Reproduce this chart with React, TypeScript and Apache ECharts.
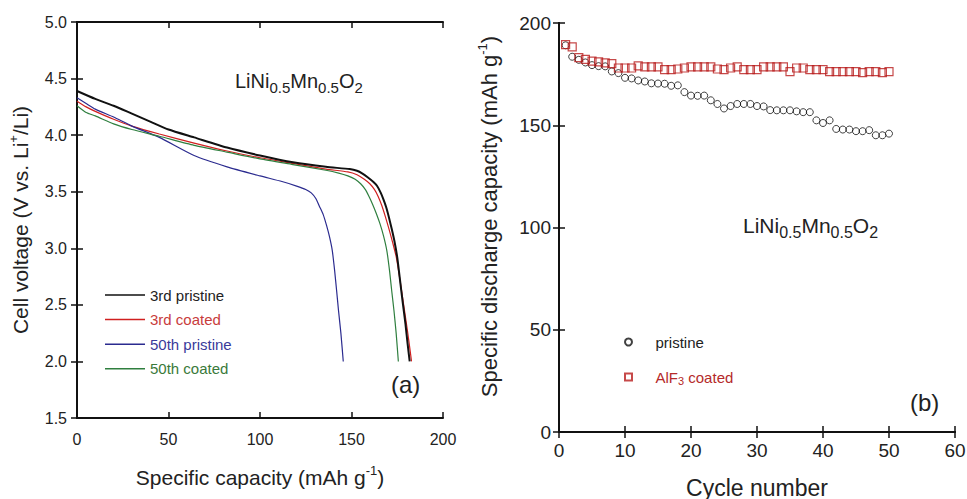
import React, { useEffect, useRef } from "react";
import * as echarts from "echarts";

const FONT = "'Liberation Sans', Arial, sans-serif";

// Panel (a): discharge curves (specific capacity, voltage)
const cap3rdPristine = [0, 10, 20, 30, 40, 50, 64, 82, 100, 118, 136, 149, 153, 156, 159, 162, 164, 166, 167.5, 169, 170.5, 172, 173.5, 175, 176.5, 178, 179.5, 180.7, 181.8];
const volt3rdPristine = [4.39, 4.32, 4.26, 4.19, 4.12, 4.05, 3.98, 3.89, 3.82, 3.76, 3.72, 3.7, 3.685, 3.66, 3.625, 3.585, 3.55, 3.49, 3.43, 3.36, 3.27, 3.17, 3.06, 2.92, 2.72, 2.52, 2.33, 2.15, 2.0];

const cap3rdCoated = [0, 5, 10, 20, 30, 45, 64, 82, 100, 118, 136, 148, 153, 157, 160, 162.5, 164.5, 166.5, 168.5, 170.5, 172.5, 174.5, 176.5, 178.5, 180.5, 182, 182.8];
const volt3rdCoated = [4.3, 4.25, 4.21, 4.14, 4.08, 4.01, 3.93, 3.86, 3.8, 3.75, 3.7, 3.675, 3.65, 3.61, 3.57, 3.52, 3.46, 3.38, 3.28, 3.17, 3.05, 2.92, 2.72, 2.5, 2.28, 2.1, 2.0];

const cap50thPristine = [0, 5, 10, 20, 30, 45, 64, 82, 100, 112, 120, 125, 128, 130.5, 132.5, 134.5, 136.4, 138, 139.5, 140.8, 141.9, 142.9, 144.2, 145.5];
const volt50thPristine = [4.33, 4.28, 4.23, 4.16, 4.08, 3.98, 3.82, 3.72, 3.64, 3.59, 3.55, 3.52, 3.49, 3.44, 3.37, 3.3, 3.2, 3.1, 2.98, 2.8, 2.62, 2.45, 2.25, 2.0];

const cap50thCoated = [0, 5, 10, 20, 30, 45, 64, 82, 100, 118, 136, 143, 148, 152, 155, 157.5, 159.5, 161.5, 163.5, 165.5, 167.5, 169.3, 170.8, 172, 173.2, 174.4, 175.6];
const volt50thCoated = [4.26, 4.2, 4.17, 4.1, 4.05, 3.99, 3.91, 3.85, 3.79, 3.74, 3.69, 3.665, 3.64, 3.61, 3.57, 3.52, 3.46, 3.39, 3.31, 3.22, 3.11, 2.98, 2.8, 2.62, 2.45, 2.25, 2.0];

// Panel (b): cycling
const cycles = [1, 2, 3, 4, 5, 6, 7, 8, 9, 10, 11, 12, 13, 14, 15, 16, 17, 18, 19, 20, 21, 22, 23, 24, 25, 26, 27, 28, 29, 30, 31, 32, 33, 34, 35, 36, 37, 38, 39, 40, 41, 42, 43, 44, 45, 46, 47, 48, 49, 50];
const pristineCap = [189.1, 183.5, 182.0, 180.7, 179.4, 178.9, 178.8, 176.3, 175.5, 173.2, 172.9, 171.9, 171.4, 170.5, 170.4, 170.3, 169.3, 169.5, 166.2, 164.5, 164.4, 164.5, 162.2, 160.4, 158.2, 159.4, 160.4, 160.4, 160.4, 159.4, 159.2, 157.4, 157.3, 157.3, 157.3, 156.8, 156.4, 156.4, 152.4, 151.1, 152.4, 148.2, 147.9, 147.9, 147.1, 147.1, 147.6, 145.1, 145.1, 145.9];
const coatedCap = [189.4, 188.3, 183.1, 182.2, 181.4, 181.0, 180.5, 180.1, 178.0, 178.0, 178.0, 179.0, 178.5, 178.5, 178.5, 177.2, 177.2, 177.5, 178.0, 178.5, 178.5, 178.5, 178.5, 177.5, 177.2, 178.0, 178.5, 177.2, 177.2, 177.2, 178.5, 178.5, 178.5, 178.5, 176.2, 178.0, 178.0, 177.2, 177.2, 177.2, 176.2, 176.2, 176.2, 176.2, 176.2, 175.7, 176.2, 176.2, 175.7, 176.2];

const zip = (a: number[], b: number[]) => a.map((v, i) => [v, b[i]]);

const axisLine = { show: true, lineStyle: { color: "#111", width: 2 } };
const axisTick = { show: true, inside: true, length: 6, lineStyle: { color: "#111", width: 1.5 } };

function buildOption() {
  const lineSeries = (name: string, xs: number[], ys: number[], color: string, width: number) => ({
    type: "line",
    name,
    xAxisIndex: 0,
    yAxisIndex: 0,
    data: zip(xs, ys),
    symbol: "none",
    smooth: 0.2,
    lineStyle: { color, width },
    itemStyle: { color },
  });

  return {
    animation: false,
    backgroundColor: "#ffffff",
    grid: [
      { left: 77, top: 22, width: 366, height: 396, outerBoundsMode: "none", containLabel: false },
      { left: 559, top: 23, width: 396, height: 409, outerBoundsMode: "none", containLabel: false },
    ],
    xAxis: [
      {
        gridIndex: 0, type: "value", min: 0, max: 200, interval: 50, position: "bottom",
        axisLine, axisTick, splitLine: { show: false },
        axisLabel: { fontSize: 16, color: "#222", margin: 13, fontFamily: FONT },
        name: "{a|Specific capacity (mAh g}{s|-1}{a|)}",
        nameLocation: "middle", nameGap: 46,
        nameTextStyle: {
          fontFamily: FONT,
          rich: {
            a: { fontSize: 21, lineHeight: 26, color: "#222", fontFamily: FONT },
            s: { fontSize: 13, lineHeight: 14, verticalAlign: "top", color: "#222", fontFamily: FONT },
          },
        },
      },
      {
        gridIndex: 0, type: "value", min: 0, max: 200, interval: 50, position: "top",
        axisLine, axisTick, splitLine: { show: false }, axisLabel: { show: false },
      },
      {
        gridIndex: 1, type: "value", min: 0, max: 60, interval: 10, position: "bottom",
        axisLine, axisTick, splitLine: { show: false },
        axisLabel: { fontSize: 19, color: "#222", margin: 9, fontFamily: FONT },
        name: "Cycle number",
        nameLocation: "middle", nameGap: 44,
        nameTextStyle: { fontSize: 23, color: "#222", fontFamily: FONT },
      },
      {
        gridIndex: 1, type: "value", min: 0, max: 60, interval: 10, position: "top",
        axisLine, axisTick, splitLine: { show: false }, axisLabel: { show: false },
      },
    ],
    yAxis: [
      {
        gridIndex: 0, type: "value", min: 1.5, max: 5, interval: 0.5, position: "left",
        axisLine, axisTick, splitLine: { show: false },
        axisLabel: { fontSize: 16, color: "#222", margin: 10, fontFamily: FONT, formatter: (v: number) => v.toFixed(1) },
        name: "{a|Cell voltage (V vs. Li}{s|+}{a|/Li)}",
        nameLocation: "middle", nameGap: 44,
        nameTextStyle: {
          fontFamily: FONT,
          rich: {
            a: { fontSize: 21, lineHeight: 26, color: "#222", fontFamily: FONT },
            s: { fontSize: 13, lineHeight: 14, verticalAlign: "top", color: "#222", fontFamily: FONT },
          },
        },
      },
      {
        gridIndex: 0, type: "value", min: 1.5, max: 5, interval: 0.5, position: "right",
        axisLine, axisTick, splitLine: { show: false }, axisLabel: { show: false },
      },
      {
        gridIndex: 1, type: "value", min: 0, max: 200, interval: 50, position: "left",
        axisLine, axisTick, splitLine: { show: false },
        axisLabel: { fontSize: 19, color: "#222", margin: 8, fontFamily: FONT },
        name: "{a|Specific discharge capacity (mAh g}{s|-1}{a|)}",
        nameLocation: "middle", nameGap: 56,
        nameTextStyle: {
          fontFamily: FONT,
          padding: [0, 0, 0, 22],
          rich: {
            a: { fontSize: 22, lineHeight: 27, color: "#222", fontFamily: FONT },
            s: { fontSize: 13, lineHeight: 14, verticalAlign: "top", color: "#222", fontFamily: FONT },
          },
        },
      },
      {
        gridIndex: 1, type: "value", min: 0, max: 200, interval: 50, position: "right",
        axisLine, axisTick, splitLine: { show: false }, axisLabel: { show: false },
      },
    ],
    legend: [
      {
        orient: "vertical",
        left: 105,
        top: 287.5,
        padding: 0,
        icon: "rect",
        itemWidth: 40,
        itemHeight: 1.5,
        itemGap: 9.6,
        textStyle: { fontSize: 15, fontFamily: FONT, lineHeight: 15 },
        data: [
          { name: "3rd pristine", textStyle: { color: "#222" } },
          { name: "3rd coated", textStyle: { color: "#c83c3c" } },
          { name: "50th pristine", textStyle: { color: "#3a3a9a" } },
          { name: "50th coated", textStyle: { color: "#3a7a3a" } },
        ],
      },
      {
        orient: "vertical",
        left: 619,
        top: 328,
        itemWidth: 44,
        itemHeight: 7,
        itemGap: 17,
        textStyle: {
          fontSize: 15, fontFamily: FONT, lineHeight: 18,
          rich: {
            k: { fontSize: 15, color: "#222", lineHeight: 18, fontFamily: FONT },
            r: { fontSize: 15, color: "#b52a2a", lineHeight: 18, fontFamily: FONT },
            rs: { fontSize: 11, color: "#b52a2a", lineHeight: 10, verticalAlign: "bottom", fontFamily: FONT },
          },
        },
        formatter: (name: string) => (name === "AlF3 coated" ? "{r|AlF}{rs|3}{r| coated}" : "{k|" + name + "}"),
        data: [
          { name: "pristine" },
          { name: "AlF3 coated", icon: "path://M0 0H10V10H0Z" },
        ],
      },
    ],
    graphic: [
      {
        type: "text",
        left: 235,
        top: 71,
        style: {
          text: "{m|LiNi}{s|0.5}{m|Mn}{s|0.5}{m|O}{s|2}",
          rich: {
            m: { fontSize: 20, lineHeight: 28, fill: "#222", fontFamily: FONT },
            s: { fontSize: 15, lineHeight: 16, verticalAlign: "bottom", fill: "#222", fontFamily: FONT },
          },
        },
      },
      {
        type: "text",
        left: 743,
        top: 215,
        style: {
          text: "{m|LiNi}{s|0.5}{m|Mn}{s|0.5}{m|O}{s|2}",
          rich: {
            m: { fontSize: 21, lineHeight: 30, fill: "#222", fontFamily: FONT },
            s: { fontSize: 16, lineHeight: 17, verticalAlign: "bottom", fill: "#222", fontFamily: FONT },
          },
        },
      },
      {
        type: "text",
        left: 391,
        top: 372,
        style: { text: "(a)", fontSize: 24, fill: "#222", fontFamily: FONT },
      },
      {
        type: "text",
        left: 910,
        top: 390,
        style: { text: "(b)", fontSize: 24, fill: "#222", fontFamily: FONT },
      },
    ],
    series: [
      lineSeries("3rd coated", cap3rdCoated, volt3rdCoated, "#d02020", 1.2),
      lineSeries("50th pristine", cap50thPristine, volt50thPristine, "#2b2b8f", 1.2),
      lineSeries("50th coated", cap50thCoated, volt50thCoated, "#2f7f3f", 1.2),
      lineSeries("3rd pristine", cap3rdPristine, volt3rdPristine, "#111111", 2),
      {
        type: "scatter",
        name: "pristine",
        xAxisIndex: 2,
        yAxisIndex: 2,
        data: zip(cycles, pristineCap),
        symbol: "circle",
        symbolSize: 7,
        itemStyle: { color: "rgba(255,255,255,0)", borderColor: "#111", borderWidth: 1 },
      },
      {
        type: "scatter",
        name: "AlF3 coated",
        xAxisIndex: 2,
        yAxisIndex: 2,
        data: zip(cycles, coatedCap),
        symbol: "rect",
        symbolSize: 8,
        itemStyle: { color: "rgba(255,255,255,0)", borderColor: "#b81c1c", borderWidth: 1.2 },
      },
    ],
  };
}

export default function App() {
  const ref = useRef<HTMLDivElement>(null);
  useEffect(() => {
    if (!ref.current) return;
    const chart = echarts.init(ref.current, undefined, { renderer: "svg" });
    chart.setOption(buildOption() as any);
    return () => chart.dispose();
  }, []);
  return (
    <div
      ref={ref}
      style={{ position: "fixed", left: 0, top: 0, width: 967, height: 499, background: "#fff" }}
    />
  );
}
